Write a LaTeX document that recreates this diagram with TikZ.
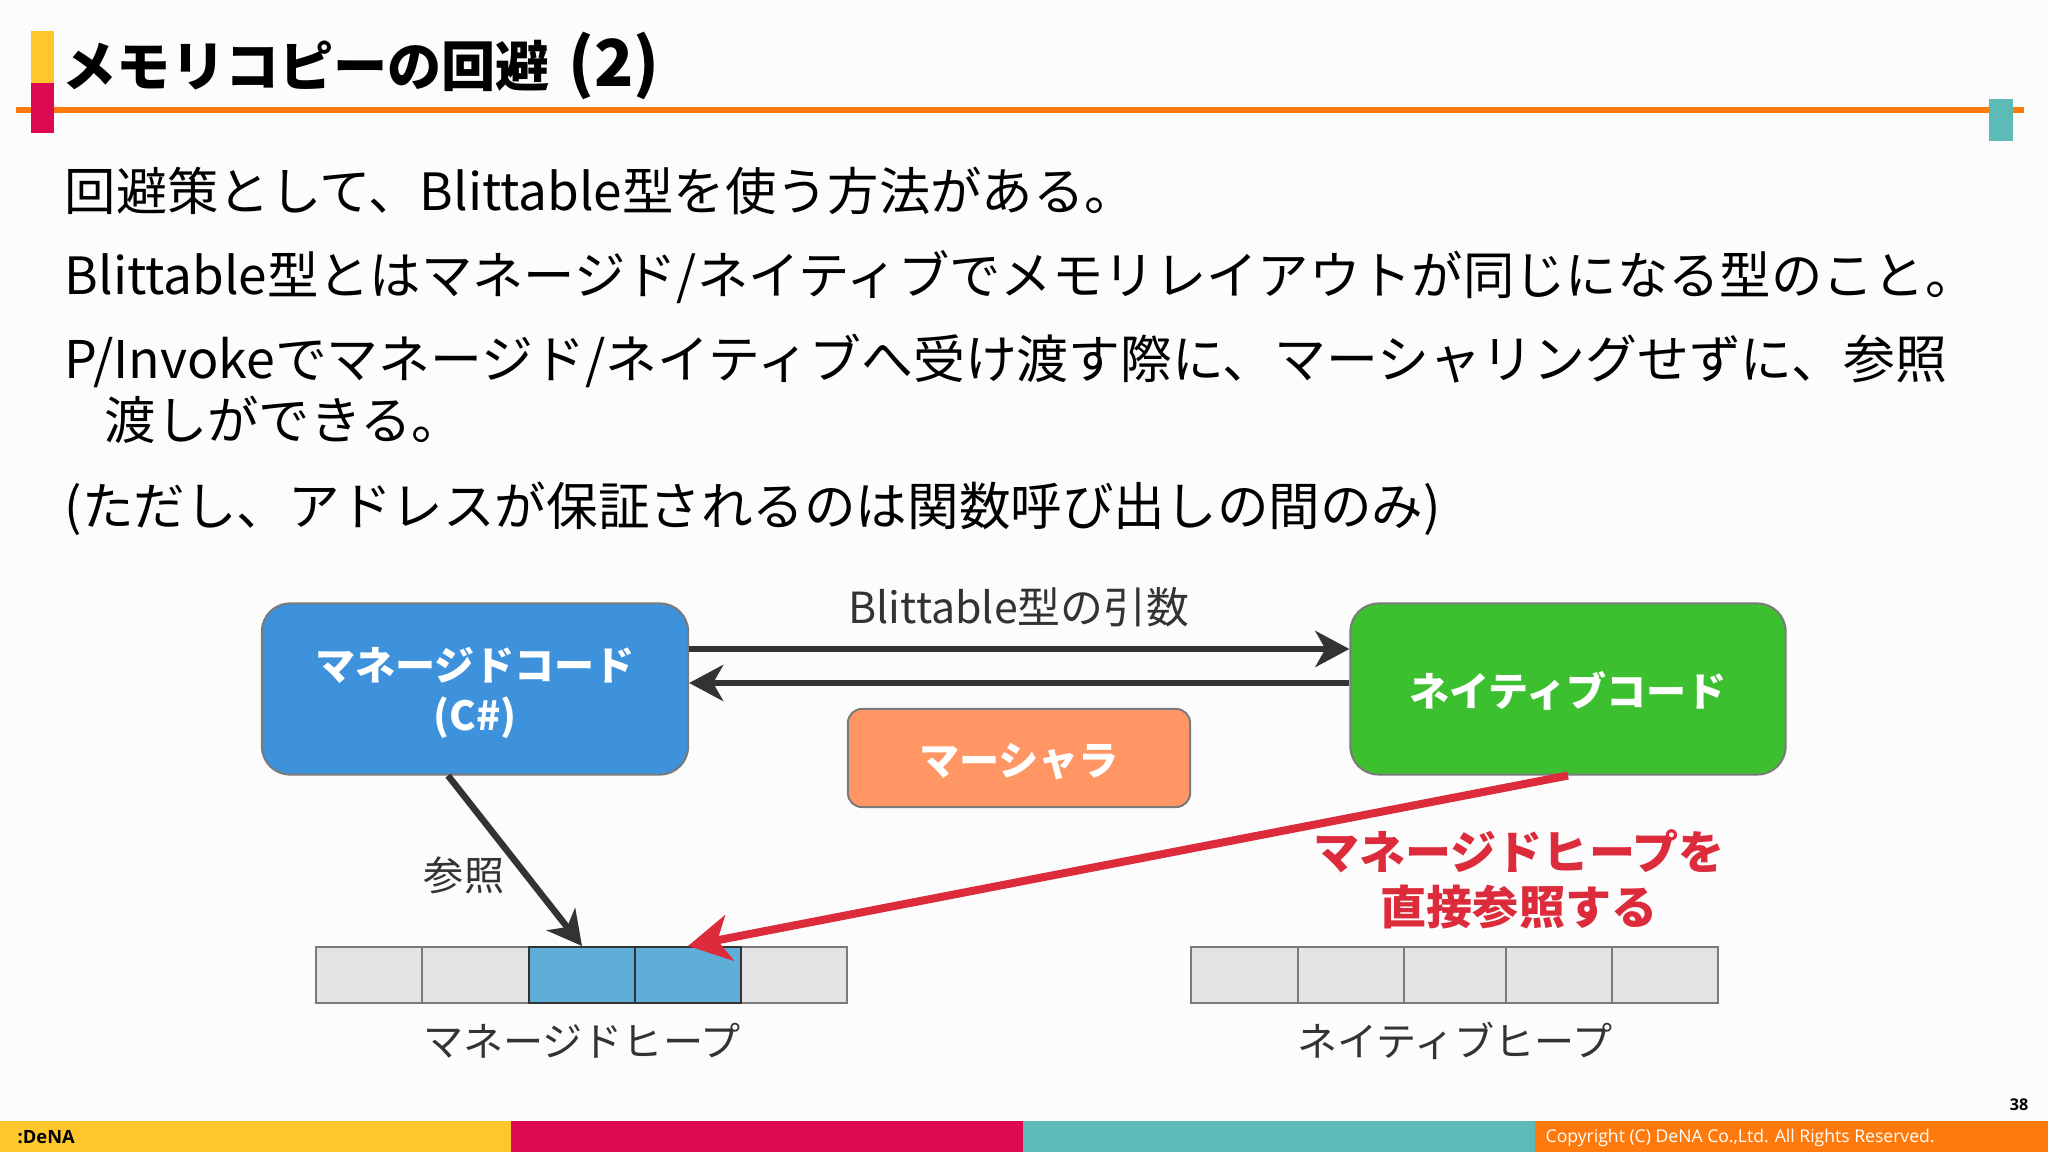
\documentclass[tikz,border=0pt]{standalone}
\usepackage{fontspec}
\setmainfont{Noto Sans CJK JP}
\newfontfamily\footfont{Open Sans}
\usetikzlibrary{arrows.meta}
\usepackage{xcolor}
\definecolor{barYellow}{HTML}{FFC72C}
\definecolor{barRed}{HTML}{DC0A52}
\definecolor{barTeal}{HTML}{5CBBB6}
\definecolor{barOrange}{HTML}{FF7A0D}
\definecolor{codeBlue}{HTML}{3E91DB}
\definecolor{codeGreen}{HTML}{3DC02F}
\definecolor{marshalOrange}{HTML}{FF9664}
\definecolor{heapGray}{HTML}{E3E3E5}
\definecolor{heapBlue}{HTML}{5FAED8}
\definecolor{edgeGray}{HTML}{7A7A7A}
\definecolor{inkGray}{HTML}{333333}
\definecolor{warnRed}{HTML}{DC2B3B}

\begin{document}
\begin{tikzpicture}[x=0.01cm,y=-0.01cm,
  bodytext/.style={anchor=base west,inner sep=0pt,font=\fontsize{#1}{17pt}\selectfont},
  codebox/.style={draw=edgeGray,line width=0.02cm,rounded corners=0.28cm,inner sep=0pt,text=white,align=center,
    font=\fontsize{11.4pt}{14.1pt}\selectfont\bfseries},
  heapcell/.style={draw=edgeGray,line width=0.02cm,fill=heapGray,inner sep=0pt,minimum height=0.56cm},
  usedcell/.style={draw=inkGray,line width=0.02cm,fill=heapBlue,inner sep=0pt,minimum height=0.56cm,minimum width=1.06cm},
  graytext/.style={text=inkGray,inner sep=0pt,font=\fontsize{11.4pt}{14pt}\selectfont},
  callarrow/.style={draw=inkGray,line width=0.065cm,-{Stealth[length=0.34cm,width=0.36cm,inset=0.1cm]}},
  warnarrow/.style={draw=warnRed,line width=0.08cm,-{Stealth[length=0.42cm,width=0.46cm,inset=0.12cm]}},
]
\useasboundingbox (0,0) rectangle (2048,1152);
\fill[white!99!black] (0,0) rectangle (2048,1152);

\fill[barOrange] (16,107) rectangle (2024,113);
\fill[barYellow] (31,31) rectangle (54,83);
\fill[barRed] (31,83) rectangle (54,133);
\fill[barTeal] (1989,99) rectangle (2013,141);

\node[anchor=base west,inner sep=0pt,font=\fontsize{15.4pt}{18pt}\selectfont\bfseries] (title) at (62,87) {メモリコピーの回避\hspace{5.2pt}{\fontsize{18.4pt}{18pt}\selectfont(2)}};

\node[bodytext=14.6pt] (line1) at (64,211) {回避策として、Blittable型を使う方法がある。};
\node[bodytext=14.6pt] (line2) at (64,295) {Blittable型とはマネージド/ネイティブでメモリレイアウトが同じになる型のこと。};
\node[bodytext=14.76pt] (line3) at (64,379) {P/Invokeでマネージド/ネイティブへ受け渡す際に、マーシャリングせずに、参照};
\node[bodytext=14.6pt] (line4) at (104,440) {渡しができる。};
\node[bodytext=14.67pt] (line5) at (64,526) {(ただし、アドレスが保証されるのは関数呼び出しの間のみ)};

\node[codebox,fill=codeBlue,text depth=0pt,minimum width=4.26cm,minimum height=1.71cm] (managed) at (475,689) {マネージドコード\\(C\#)};
\node[codebox,fill=codeGreen,text height=9.8pt,text depth=0pt,minimum width=4.35cm,minimum height=1.71cm] (native) at (1568,689) {ネイティブコード};
\node[codebox,fill=marshalOrange,text height=9.8pt,text depth=0pt,rounded corners=0.14cm,minimum width=3.42cm,minimum height=0.98cm] (marshaler) at (1019,758) {マーシャラ};

\node[graytext,font=\fontsize{12.2pt}{14pt}\selectfont] (argtext) at (1019,607) {Blittable型の引数};

\draw[callarrow] ([yshift=0.4cm]managed.east) -- ([yshift=0.4cm]native.west);
\draw[callarrow] ([yshift=0.06cm]native.west) -- ([yshift=0.06cm]managed.east);

\foreach \i/\x in {1/369,2/475.5,5/793.5}
  \node[heapcell,minimum width=1.06cm] (m\i) at (\x,975) {};
\foreach \i/\x in {3/582,4/688}
  \node[usedcell] (m\i) at (\x,975) {};
\foreach \i/\x/\w in {1/1244.5/1.07,2/1351/1.06,3/1455/1.02,4/1559/1.06,5/1665/1.06}
  \node[heapcell,minimum width=\w cm] (n\i) at (\x,975) {};

\draw[callarrow] ([xshift=-0.27cm]managed.south) -- (m3.north);
\draw[warnarrow] (native.south) -- (m4.north);

\node[graytext] (reftext) at (464,875) {参照};
\node[graytext] (mheap) at (582,1041) {マネージドヒープ};
\node[graytext] (nheap) at (1455,1041) {ネイティブヒープ};
\node[text=warnRed,inner sep=0pt,align=center,font=\fontsize{13.1pt}{15.6pt}\selectfont\bfseries] (warntext) at (1519,879) {マネージドヒープを\\直接参照する};

\fill[barYellow] (0,1121) rectangle (511,1152);
\fill[barRed] (511,1121) rectangle (1023,1152);
\fill[barTeal] (1023,1121) rectangle (1535,1152);
\fill[barOrange] (1535,1121) rectangle (2048,1152);

\node[anchor=west,inner sep=0pt,text=black,font=\footfont\fontsize{5.2pt}{6pt}\selectfont\bfseries] (logo) at (17,1137) {:DeNA};
\node[anchor=west,inner sep=0pt,text=white,font=\footfont\fontsize{5pt}{6pt}\selectfont] (copyright) at (1545,1138) {Copyright (C) DeNA Co.,Ltd. All Rights Reserved.};
\node[inner sep=0pt,font=\footfont\fontsize{4.6pt}{6pt}\selectfont\bfseries] (pageno) at (2019,1105) {38};
\end{tikzpicture}
\end{document}
